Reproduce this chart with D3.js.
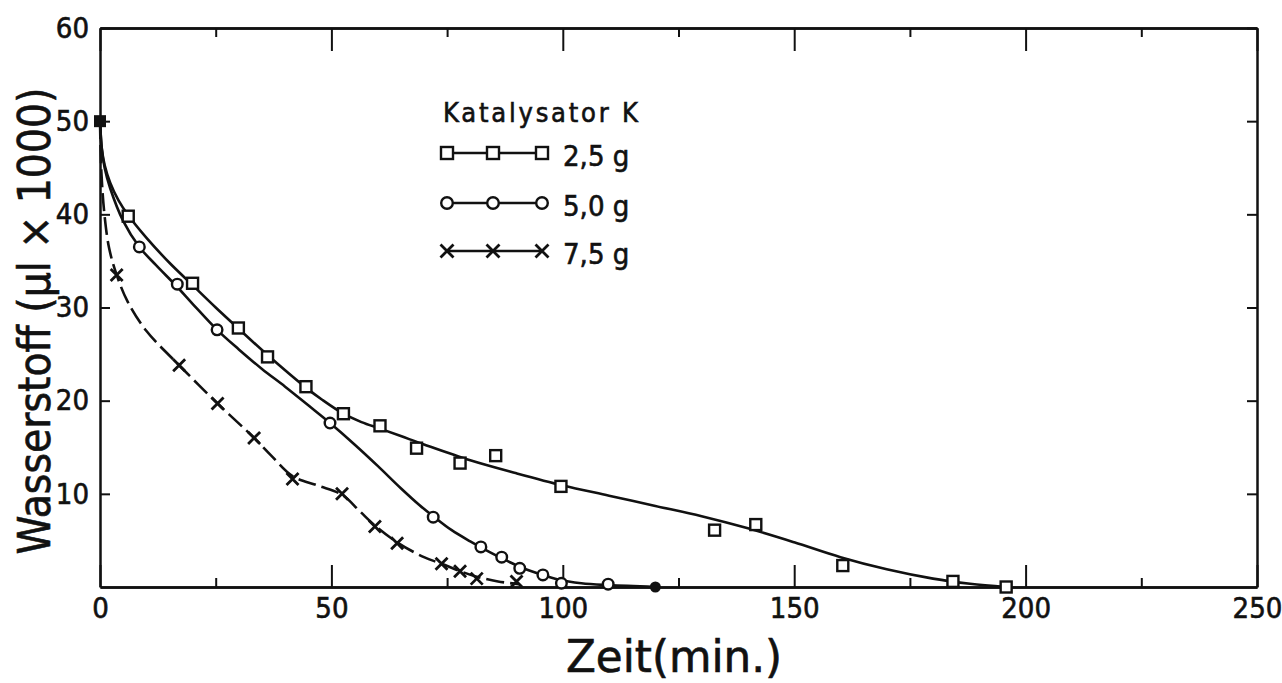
<!DOCTYPE html>
<html>
<head>
<meta charset="utf-8">
<script src="https://cdn.jsdelivr.net/npm/d3@7"></script>
<style>
  body { margin: 0; background: #fff; }
  svg text { font-family: "DejaVu Sans", sans-serif; font-stretch: condensed; fill: #111; stroke: #111; stroke-width: 0.6px; }
</style>
</head>
<body>
<div id="chart"></div>
<script>
// measured points (x = Zeit in min, y = Wasserstoff in µl x 1000)
const squarePts = [[6.1,39.8],[20,32.6],[29.9,27.8],[36.2,24.7],[44.5,21.5],[52.6,18.6],[60.5,17.3],
                   [68.4,14.9],[77.8,13.3],[85.5,14.1],[99.6,10.8],[132.8,6.1],[141.7,6.7],[160.5,2.3],
                   [184.3,0.6],[195.8,0]]
const circlePts = [[8.5,36.5],[16.7,32.5],[25.3,27.6],[49.7,17.6],[72,7.5],[82.3,4.3],[86.8,3.2],
                   [90.7,2.0],[95.7,1.3],[99.7,0.4],[109.8,0.3]]
const crossPts  = [[3.6,33.5],[17.1,23.8],[25.4,19.7],[33.3,16.0],[41.6,11.6],[52.3,10.0],[59.4,6.5],
                   [64.2,4.7],[73.8,2.5],[77.8,1.7],[81.4,0.9],[90,0.6]]
const startPt = [0,50]
const endPt = [120,0]

// hand drawn fit curves
const squareCurve = [[0,50],[0.4,47],[1,45.3],[2.2,43.4],[4,41.5],[6.1,39.9],[10,37.5],[15,34.8],[20,32.4],
                     [25,30.0],[30,27.7],[36.2,24.9],[44.5,21.4],[48,20.1],[52.6,18.6],[56.5,17.7],[60.5,17.0],
                     [65,16.2],[70,15.3],[80,13.6],[90,12.2],[100,10.9],[110,9.8],[120,8.7],[130,7.6],
                     [140,6.3],[150,4.8],[160,3.2],[170,1.9],[180,0.9],[188,0.35],[195.8,0]]
const circleCurve = [[0,50],[0.4,47],[1,45],[2.2,42.8],[5,39.3],[8.5,36.5],[12,34.6],[16.7,32.2],[20,30.4],
                     [25.3,27.6],[30,25.5],[35,23.4],[40,21.5],[45,19.5],[49.7,17.6],[55,15.3],[60,13.0],
                     [65,10.6],[69,8.8],[72,7.6],[76,6.1],[80,4.9],[84,3.8],[88,2.8],[91,2.1],[95,1.4],
                     [99,0.8],[104,0.4],[110,0.2],[120,0]]
const crossCurve  = [[0,50],[0.3,44.5],[1,39.8],[2,36.3],[3.6,33.5],[6,30.6],[10,27.5],[17.1,23.8],[25.4,19.7],
                     [33.3,16],[37,14.1],[41.6,11.9],[47,10.9],[52.3,9.9],[56,8.2],[59.4,6.6],[64.2,4.8],
                     [70,3.2],[73.8,2.5],[77.8,1.7],[81.4,1.1],[86,0.6],[90.5,0.3]]

const legendTitle = 'Katalysator K'
const legendLabels = ['2,5 g', '5,0 g', '7,5 g']
const xMajor = [0, 50, 100, 150, 200, 250]
const xMinor = [25, 75, 125, 175, 225]
const yMajor = [10, 20, 30, 40, 50, 60]

const width = 1282, height = 683

const svg = d3.select('#chart').append('svg')
  .attr('width', width).attr('height', height)

const x = d3.scaleLinear().domain([0, 250]).range([100, 1257])
const y = d3.scaleLinear().domain([0, 60]).range([587, 28])

// axes: major + minor on bottom and top, ticks inward
function styleAxis(g) {
  g.selectAll('path.domain').attr('stroke', '#111').attr('stroke-width', 2.5)
  g.selectAll('.tick line').attr('stroke', '#111').attr('stroke-width', 2)
  g.selectAll('.tick text').style('font-size', '29px').attr('fill', '#111')
}

svg.append('g').attr('transform', 'translate(0,' + y(0) + ')')
  .call(d3.axisBottom(x).tickValues(xMajor).tickSize(-22).tickSizeOuter(0).tickPadding(10).tickFormat(d3.format('d')))
  .call(styleAxis)
svg.append('g').attr('transform', 'translate(0,' + y(0) + ')')
  .call(d3.axisBottom(x).tickValues(xMinor).tickSize(-9).tickSizeOuter(0).tickFormat(''))
  .call(styleAxis)
svg.append('g').attr('transform', 'translate(0,' + y(60) + ')')
  .call(d3.axisTop(x).tickValues(xMajor).tickSize(-23).tickSizeOuter(0).tickFormat(''))
  .call(styleAxis)
svg.append('g').attr('transform', 'translate(0,' + y(60) + ')')
  .call(d3.axisTop(x).tickValues(xMinor).tickSize(-9).tickSizeOuter(0).tickFormat(''))
  .call(styleAxis)
svg.append('g').attr('transform', 'translate(' + x(0) + ',0)')
  .call(d3.axisLeft(y).tickValues(yMajor).tickSize(-10).tickSizeOuter(0).tickPadding(11))
  .call(styleAxis)
svg.append('g').attr('transform', 'translate(' + x(250) + ',0)')
  .call(d3.axisRight(y).tickValues(yMajor).tickSize(-10).tickSizeOuter(0).tickFormat(''))
  .call(styleAxis)

// axis titles
svg.append('text')
  .attr('transform', 'translate(50,321) rotate(-90)')
  .attr('text-anchor', 'middle')
  .attr('textLength', 467).attr('lengthAdjust', 'spacingAndGlyphs')
  .style('font-size', '44px')
  .text('Wasserstoff (µl × 1000)')

svg.append('text')
  .attr('x', 674).attr('y', 672)
  .attr('text-anchor', 'middle')
  .attr('textLength', 216).attr('lengthAdjust', 'spacingAndGlyphs')
  .style('font-size', '44px')
  .text('Zeit(min.)')

// curves
const line = d3.line().x(d => x(d[0])).y(d => y(d[1])).curve(d3.curveCatmullRom.alpha(0.5))

svg.append('path').datum(squareCurve).attr('d', line)
  .attr('fill', 'none').attr('stroke', '#111').attr('stroke-width', 2.6)
svg.append('path').datum(circleCurve).attr('d', line)
  .attr('fill', 'none').attr('stroke', '#111').attr('stroke-width', 2.6)
svg.append('path').datum(crossCurve).attr('d', line)
  .attr('fill', 'none').attr('stroke', '#111').attr('stroke-width', 2.6)
  .attr('stroke-dasharray', '18,6')

// marker helpers
function squares(g, pts, s) {
  g.selectAll(null).data(pts).enter().append('rect')
    .attr('x', d => d[0] - s/2).attr('y', d => d[1] - s/2)
    .attr('width', s).attr('height', s)
    .attr('fill', '#fff').attr('stroke', '#111').attr('stroke-width', 2.4)
}
function circles(g, pts, r) {
  g.selectAll(null).data(pts).enter().append('circle')
    .attr('cx', d => d[0]).attr('cy', d => d[1]).attr('r', r)
    .attr('fill', '#fff').attr('stroke', '#111').attr('stroke-width', 2.4)
}
function crosses(g, pts, h) {
  g.selectAll(null).data(pts).enter().append('path')
    .attr('d', d => 'M' + (d[0]-h) + ',' + (d[1]-h) + 'L' + (d[0]+h) + ',' + (d[1]+h) +
                    'M' + (d[0]-h) + ',' + (d[1]+h) + 'L' + (d[0]+h) + ',' + (d[1]-h))
    .attr('stroke', '#111').attr('stroke-width', 2.8).attr('fill', 'none')
}
const px = d => [x(d[0]), y(d[1])]

const marks = svg.append('g')
squares(marks, squarePts.map(px), 11)
circles(marks, circlePts.map(px), 5.3)
crosses(marks, crossPts.map(px), 6)

// filled start and end points
marks.append('rect')
  .attr('x', x(startPt[0]) - 6).attr('y', y(startPt[1]) - 6)
  .attr('width', 12).attr('height', 12).attr('fill', '#111')
marks.append('circle')
  .attr('cx', x(endPt[0])).attr('cy', y(endPt[1])).attr('r', 5.5).attr('fill', '#111')

// legend
const legend = svg.append('g')
legend.append('text')
  .attr('x', 443).attr('y', 122)
  .attr('textLength', 195).attr('lengthAdjust', 'spacing')
  .style('font-size', '27px')
  .text(legendTitle)

const legX = [447, 493, 542]
const legY = [153, 203, 251]
const markFns = [
  (g, pts) => squares(g, pts, 12),
  (g, pts) => circles(g, pts, 5.8),
  (g, pts) => crosses(g, pts, 6.5)
]
legendLabels.forEach((lab, i) => {
  const g = legend.append('g')
  g.append('line')
    .attr('x1', legX[0]).attr('x2', legX[2])
    .attr('y1', legY[i]).attr('y2', legY[i])
    .attr('stroke', '#111').attr('stroke-width', 2.6)
  markFns[i](g, legX.map(v => [v, legY[i]]))
  g.append('text')
    .attr('x', 563).attr('y', legY[i] + 13)
    .style('font-size', '29px')
    .text(lab)
})
</script>
</body>
</html>
